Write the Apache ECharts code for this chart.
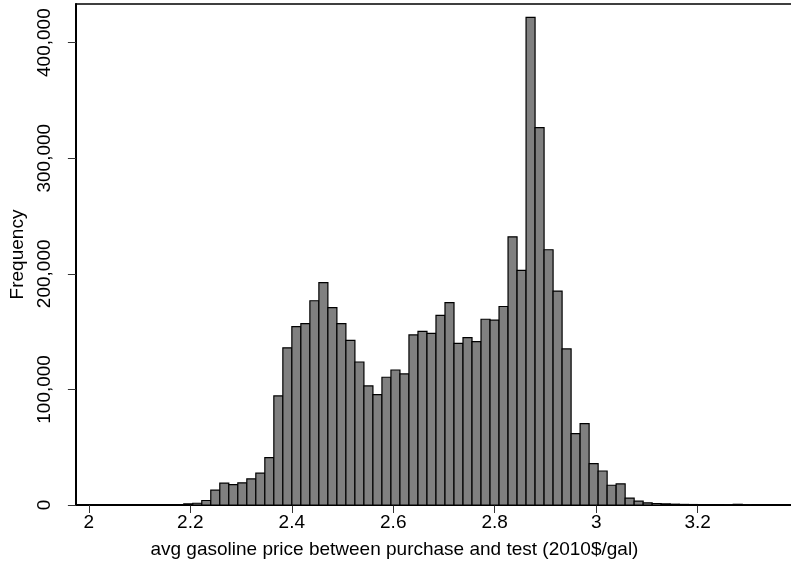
<!DOCTYPE html>
<html>
<head>
<meta charset="utf-8">
<script src="https://cdn.jsdelivr.net/npm/echarts@6/dist/echarts.min.js"></script>
<style>
html,body{margin:0;padding:0;background:#fff;}
#chart{width:791px;height:573px;}
</style>
</head>
<body>
<div id="chart"></div>
<script>
// Histogram bins: first bin left edge and bin width (price units, 2010$/gal)
var binStart = 2.1871;
var binWidth = 0.017755;
// Frequency per bin
var counts = [
  1000, 1500, 3900, 12800, 18900, 17700, 19200, 22600, 27500, 41000,
  94400, 136000, 154300, 156900, 176700, 192300, 170700, 156900, 142400, 123700,
  103000, 95500, 110500, 116800, 113400, 147100, 150200, 148500, 164000, 175000,
  139800, 144800, 141300, 160700, 159900, 171700, 232000, 203000, 421900, 326500,
  220800, 185100, 135000, 61800, 70400, 35800, 29400, 17100, 18300, 6000,
  3300, 1900, 1300, 1000, 700, 500, 400, 300, 300, 300,
  200, 600, 200
];
var xTicks = [2, 2.2, 2.4, 2.6, 2.8, 3, 3.2];
var xTickLabels = ['2', '2.2', '2.4', '2.6', '2.8', '3', '3.2'];
var yTicks = [0, 100000, 200000, 300000, 400000];
var yTickLabels = ['0', '100,000', '200,000', '300,000', '400,000'];
var xName = 'avg gasoline price between purchase and test (2010$/gal)';
var yName = 'Frequency';

var data = counts.map(function (c, i) {
  var s = binStart + i * binWidth;
  return [s, s + binWidth, c];
});

var FONT = '"Liberation Sans", Arial, Helvetica, sans-serif';
var FS = 19;
var chart = echarts.init(document.getElementById('chart'), null, {renderer: 'canvas'});
chart.setOption({
  animation: false,
  backgroundColor: '#ffffff',
  grid: {left: 72, right: 0, top: 4, bottom: 68, containLabel: false},
  xAxis: [{
    type: 'value',
    min: 1.9745,
    max: 3.384,
    name: xName,
    nameLocation: 'middle',
    nameGap: 35,
    nameTextStyle: {color: '#000', fontFamily: FONT, fontSize: FS, padding: [0, 78, 0, 0]},
    axisLine: {show: true, lineStyle: {color: '#000', width: 2}},
    axisTick: {show: true, length: 8, lineStyle: {color: '#333', width: 1}, customValues: xTicks},
    axisLabel: {
      show: true, margin: 8, color: '#000', fontFamily: FONT, fontSize: FS,
      customValues: xTicks,
      formatter: function (v) { var i = xTicks.indexOf(+v.toFixed(4)); return i >= 0 ? xTickLabels[i] : ''; }
    },
    splitLine: {show: false}
  }, {
    type: 'value',
    position: 'top',
    min: 1.9745,
    max: 3.384,
    axisLine: {show: true, onZero: false, lineStyle: {color: '#000', width: 1.5}},
    axisTick: {show: false},
    axisLabel: {show: false},
    splitLine: {show: false}
  }],
  yAxis: {
    type: 'value',
    min: 0,
    max: 433400,
    name: yName,
    nameLocation: 'middle',
    nameGap: 44,
    nameTextStyle: {color: '#000', fontFamily: FONT, fontSize: FS},
    axisLine: {show: true, lineStyle: {color: '#000', width: 2}},
    axisTick: {show: true, length: 8, lineStyle: {color: '#333', width: 1}, customValues: yTicks},
    axisLabel: {
      show: true, rotate: 90, margin: 22, color: '#000', fontFamily: FONT, fontSize: FS,
      customValues: yTicks,
      formatter: function (v) { var i = yTicks.indexOf(Math.round(v)); return i >= 0 ? yTickLabels[i] : ''; }
    },
    splitLine: {show: false}
  },
  series: [{
    type: 'custom',
    xAxisIndex: 0,
    yAxisIndex: 0,
    data: data,
    encode: {x: [0, 1], y: 2},
    renderItem: function (params, api) {
      var p0 = api.coord([api.value(0), api.value(2)]);
      var p1 = api.coord([api.value(1), 0]);
      return {
        type: 'rect',
        shape: {x: p0[0], y: p0[1], width: p1[0] - p0[0], height: p1[1] - p0[1]},
        style: {fill: '#808080', stroke: '#000', lineWidth: 1.2}
      };
    }
  }]
});
</script>
</body>
</html>
